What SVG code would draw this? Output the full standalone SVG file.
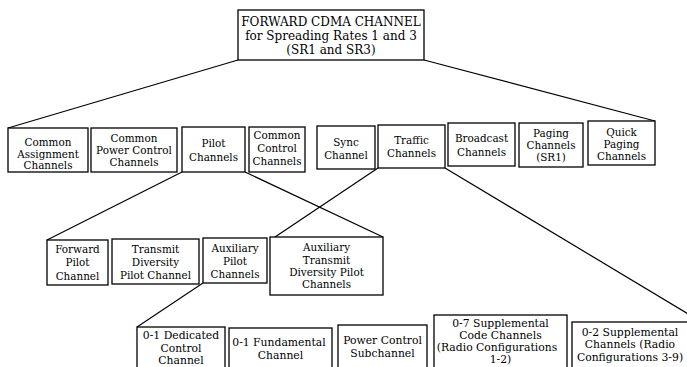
<svg xmlns="http://www.w3.org/2000/svg" width="687" height="367" viewBox="0 0 687 367">
<style>
rect{fill:#fff;stroke:#000;stroke-width:1.3}
.c line{stroke:#000;stroke-width:1.2}
text{font-family:"DejaVu Serif","Liberation Serif",serif;fill:#000;text-anchor:middle}
.t{font-size:12px}
.a{font-size:10.4px}
.b{font-size:10.4px}
.d{font-size:10.8px}
</style>
<rect x="0" y="0" width="687" height="367" style="stroke:none;fill:#fff"/>
<g class="c" id="connectors">
<line x1="238" y1="60" x2="8" y2="128"/>
<line x1="424" y1="60" x2="655" y2="121"/>
<line x1="182" y1="172" x2="47" y2="240"/>
<line x1="245" y1="172" x2="383" y2="237"/>
<line x1="378" y1="168" x2="275" y2="237"/>
<line x1="445" y1="168" x2="700" y2="321"/>
<line x1="203" y1="283" x2="137" y2="327"/>
</g>
<g id="root"><rect x="238" y="10" width="186" height="50"/>
<text class="t" x="331" y="26">FORWARD CDMA CHANNEL</text>
<text class="t" x="331" y="40">for Spreading Rates 1 and 3</text>
<text class="t" x="331" y="54">(SR1 and SR3)</text></g>
<g id="common-assignment"><rect x="8" y="128" width="80" height="44"/>
<text class="a" x="48" y="146">Common</text><text class="a" x="48" y="158">Assignment</text><text class="a" x="48" y="169">Channels</text></g>
<g id="common-power-control"><rect x="91" y="128" width="86" height="44"/>
<text class="a" x="134" y="142">Common</text><text class="a" x="134" y="154">Power Control</text><text class="a" x="134" y="166">Channels</text></g>
<g id="pilot"><rect x="182" y="127" width="63" height="45"/>
<text class="a" x="213.5" y="147">Pilot</text><text class="a" x="213.5" y="161">Channels</text></g>
<g id="common-control"><rect x="249" y="127" width="56" height="45"/>
<text class="a" x="277" y="139">Common</text><text class="a" x="277" y="152">Control</text><text class="a" x="277" y="165">Channels</text></g>
<g id="sync"><rect x="317" y="126" width="58" height="43"/>
<text class="a" x="346" y="146">Sync</text><text class="a" x="346" y="159">Channel</text></g>
<g id="traffic"><rect x="378" y="125" width="67" height="43"/>
<text class="a" x="411.5" y="144">Traffic</text><text class="a" x="411.5" y="157">Channels</text></g>
<g id="broadcast"><rect x="448" y="123" width="67" height="43"/>
<text class="a" x="481.5" y="142">Broadcast</text><text class="a" x="481.5" y="156">Channels</text></g>
<g id="paging"><rect x="519" y="123" width="64" height="44"/>
<text class="a" x="551" y="137">Paging</text><text class="a" x="551" y="149">Channels</text><text class="a" x="551" y="161">(SR1)</text></g>
<g id="quick-paging"><rect x="588" y="121" width="67" height="44"/>
<text class="a" x="621.5" y="136">Quick</text><text class="a" x="621.5" y="148">Paging</text><text class="a" x="621.5" y="160">Channels</text></g>
<g id="forward-pilot"><rect x="47" y="240" width="61" height="45"/>
<text class="b" x="77.5" y="253">Forward</text><text class="b" x="77.5" y="266">Pilot</text><text class="b" x="77.5" y="280">Channel</text></g>
<g id="transmit-diversity"><rect x="112" y="239" width="87" height="45"/>
<text class="b" x="155.5" y="253">Transmit</text><text class="b" x="155.5" y="266">Diversity</text><text class="b" x="155.5" y="279">Pilot Channel</text></g>
<g id="auxiliary-pilot"><rect x="203" y="238" width="64" height="45"/>
<text class="b" x="235" y="252">Auxiliary</text><text class="b" x="235" y="265">Pilot</text><text class="b" x="235" y="278">Channels</text></g>
<g id="aux-transmit-diversity"><rect x="270" y="237" width="113" height="58"/>
<text class="b" x="326.5" y="251">Auxiliary</text><text class="b" x="326.5" y="264">Transmit</text><text class="b" x="326.5" y="276">Diversity Pilot</text><text class="b" x="326.5" y="288">Channels</text></g>
<g id="dedicated-control"><rect x="137" y="327" width="88" height="45"/>
<text class="d" x="181" y="339">0-1 Dedicated</text><text class="d" x="181" y="352">Control</text><text class="d" x="181" y="364">Channel</text></g>
<g id="fundamental"><rect x="229" y="328" width="103" height="45"/>
<text class="d" x="279" y="346">0-1 Fundamental</text><text class="d" x="280.5" y="359">Channel</text></g>
<g id="power-control-sub"><rect x="338" y="325" width="89" height="45"/>
<text class="d" x="382.5" y="344">Power Control</text><text class="d" x="382.5" y="357">Subchannel</text></g>
<g id="supplemental-code"><rect x="434" y="315" width="133" height="56"/>
<text class="d" x="500.5" y="327">0-7 Supplemental</text><text class="d" x="500.5" y="339">Code Channels</text><text class="d" x="497" y="351">(Radio Configurations</text><text class="d" x="500.5" y="363">1-2)</text></g>
<g id="supplemental"><rect x="572" y="322" width="120" height="50"/>
<text class="d" x="630" y="336">0-2 Supplemental</text><text class="d" x="630" y="348">Channels (Radio</text><text class="d" x="630" y="361">Configurations 3-9)</text></g>
</svg>
